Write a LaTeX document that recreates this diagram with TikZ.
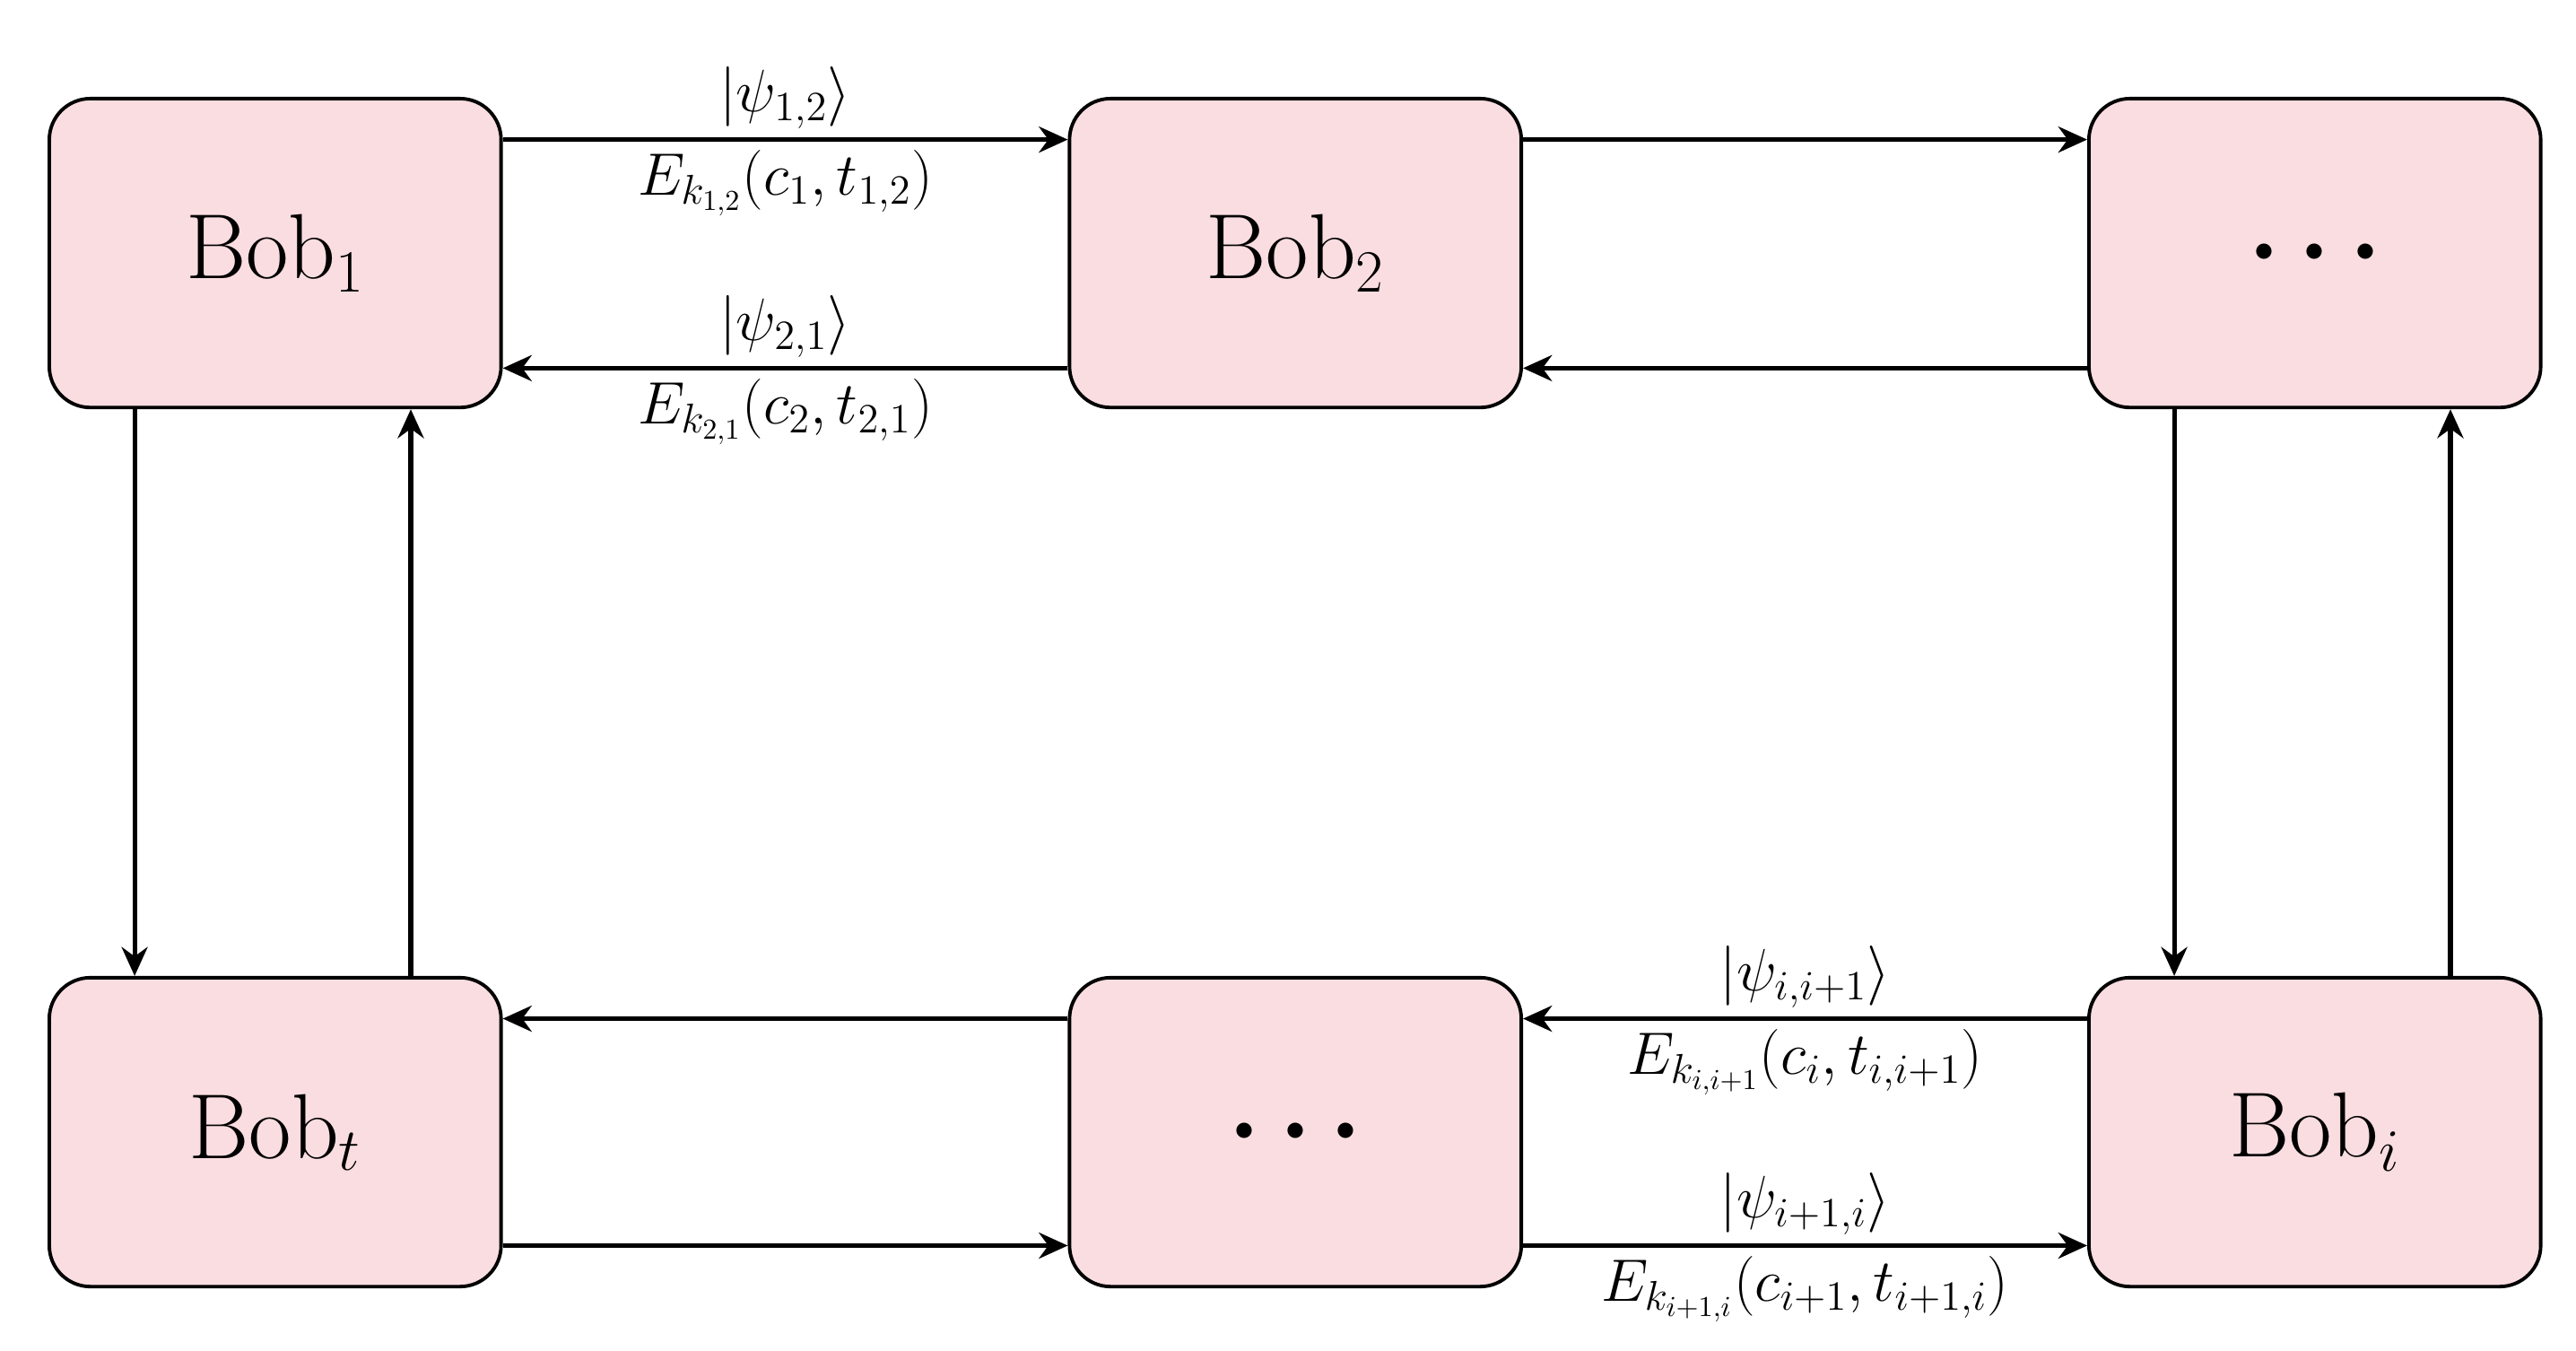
\documentclass[tikz,border=0pt]{standalone}
\usepackage{amsmath}
\usetikzlibrary{arrows.meta}
\newcommand{\mydots}{\scalebox{0.55}{$\bullet\;\;\bullet\;\;\bullet$}}
\begin{document}
\begin{tikzpicture}[x=0.02cm,y=-0.02cm,
 box/.style={draw=black,line width=1.2pt,fill={rgb,255:red,250;green,221;blue,225},rounded corners=0.5cm,minimum width=275*0.02cm,minimum height=188*0.02cm,inner sep=0pt,font=\fontsize{32}{36}\selectfont},
 arr/.style={-{Stealth[length=10pt,width=9pt]},line width=1.6pt},
 lab/.style={font=\fontsize{20}{24}\selectfont,inner sep=3pt}]
\useasboundingbox (0,0) rectangle (1568,822);
\node[box] (b1) at (167.5,154) {Bob$_1$};
\node[box] (b2) at (788.5,154) {Bob$_2$};
\node[box] (d1) at (1409,154) {\mydots};
\node[box] (bt) at (167.5,689) {Bob$_t$};
\node[box] (d2) at (788.5,689) {\mydots};
\node[box] (bi) at (1409,689) {Bob$_i$};
\def\s{0.02cm}
% top row
\draw[arr] ([yshift=-26*\s]b1.north east) -- node[lab,above]{$\left|\psi_{1,2}\right\rangle$} node[lab,below]{$E_{k_{1,2}}(c_1,t_{1,2})$} ([yshift=-26*\s]b2.north west);
\draw[arr] ([yshift=25*\s]b2.south west) -- node[lab,above]{$\left|\psi_{2,1}\right\rangle$} node[lab,below]{$E_{k_{2,1}}(c_2,t_{2,1})$} ([yshift=25*\s]b1.south east);
\draw[arr] ([yshift=-26*\s]b2.north east) -- ([yshift=-26*\s]d1.north west);
\draw[arr] ([yshift=25*\s]d1.south west) -- ([yshift=25*\s]b2.south east);
% bottom row
\draw[arr] ([yshift=-26*\s]bi.north west) -- node[lab,above]{$\left|\psi_{i,i+1}\right\rangle$} node[lab,below]{$E_{k_{i,i+1}}(c_i,t_{i,i+1})$} ([yshift=-26*\s]d2.north east);
\draw[arr] ([yshift=26*\s]d2.south east) -- node[lab,above]{$\left|\psi_{i+1,i}\right\rangle$} node[lab,below]{$E_{k_{i+1,i}}(c_{i+1},t_{i+1,i})$} ([yshift=26*\s]bi.south west);
\draw[arr] ([yshift=-26*\s]d2.north west) -- ([yshift=-26*\s]bt.north east);
\draw[arr] ([yshift=26*\s]bt.south east) -- ([yshift=26*\s]d2.south west);
% verticals
\draw[arr] ([xshift=53*\s]b1.south west) -- ([xshift=53*\s]bt.north west);
\draw[arr] ([xshift=-56*\s]bt.north east) -- ([xshift=-56*\s]b1.south east);
\draw[arr] ([xshift=53*\s]d1.south west) -- ([xshift=53*\s]bi.north west);
\draw[arr] ([xshift=-56*\s]bi.north east) -- ([xshift=-56*\s]d1.south east);
\end{tikzpicture}
\end{document}
